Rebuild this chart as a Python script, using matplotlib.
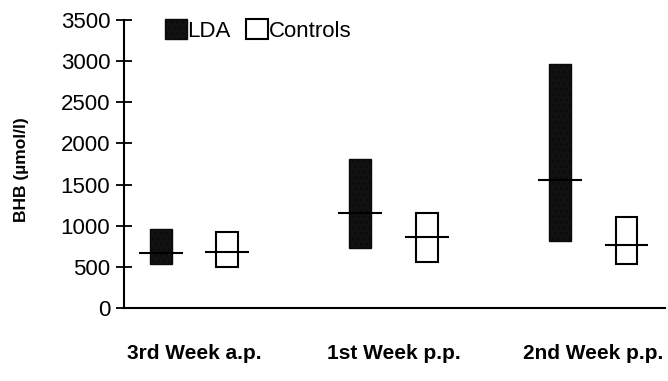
import numpy as np
import matplotlib
matplotlib.use('Agg')
from matplotlib import pyplot as plt
from matplotlib.patches import Patch


# =============================================================================
# Data: BHB range (min/max) and median per period
# =============================================================================
periods = ['3rd Week a.p.', '1st Week p.p.', '2nd Week p.p.']
lda_low = [530, 730, 810]
lda_high = [960, 1810, 2970]
lda_median = [670, 1160, 1550]
ctrl_low = [500, 560, 540]
ctrl_high = [920, 1160, 1110]
ctrl_median = [680, 860, 770]
yticks = [0, 500, 1000, 1500, 2000, 2500, 3000, 3500]


# =============================================================================
# Plot parameters
# =============================================================================
fontsize = 16
matplotlib.rcParams['font.family'] = 'Liberation Sans'
matplotlib.rcParams['font.size'] = fontsize
matplotlib.rcParams['axes.spines.right'] = False
matplotlib.rcParams['axes.spines.top'] = False
matplotlib.rcParams['axes.linewidth'] = 1.5
matplotlib.rcParams['hatch.color'] = '#555555'
matplotlib.rcParams['hatch.linewidth'] = 0.9

offset = 0.167
bar_width = 0.11
med_half = 0.11
lda_color = '#111111'


# =============================================================================
# Plot the ranges
# =============================================================================
fig = plt.figure(figsize=(6.68, 3.81), dpi=100)
ax = fig.add_axes([124/668, 1-308/381, (665-124)/668, (308-20)/381])

x = np.arange(len(periods))
lda_x = x - offset
ctrl_x = x + offset

ax.bar(lda_x, np.subtract(lda_high, lda_low), bottom=lda_low,
    width=bar_width, facecolor=lda_color, edgecolor='#0a0a0a',
    linewidth=1.0, hatch='...')
ax.bar(ctrl_x, np.subtract(ctrl_high, ctrl_low), bottom=ctrl_low,
    width=bar_width, facecolor='white', edgecolor='black', linewidth=1.5)

# Medians
ax.hlines(lda_median, lda_x - med_half, lda_x + med_half, color='black',
    linewidth=1.5)
ax.hlines(ctrl_median, ctrl_x - med_half, ctrl_x + med_half, color='black',
    linewidth=1.5)

# x-axis parameters
ax.set_xlim(-0.351, 2.36)
ax.set_xticks(x)
ax.set_xticklabels(periods, fontweight='bold', fontsize=15)
ax.tick_params(axis='x', length=0, pad=26)

# y-axis parameters
ax.set_ylim(0, 3500)
ax.set_yticks(yticks)
ax.tick_params(axis='y', direction='inout', length=12, width=1.3, pad=4,
    labelsize=16)
ax.set_ylabel('BHB (\u00b5mol/l)', fontweight='bold', fontsize=12.5)
ax.yaxis.set_label_coords(-0.175, 0.48)

# Legend
handles = [
    Patch(facecolor=lda_color, edgecolor='#0a0a0a', hatch='...',
        linewidth=1.0, label='LDA'),
    Patch(facecolor='white', edgecolor='black', linewidth=1.5,
        label='Controls'),
]
ax.legend(handles=handles, loc='upper left', ncol=2, frameon=False,
    bbox_to_anchor=(165/668, 1-19/381), bbox_transform=fig.transFigure,
    borderpad=0, borderaxespad=0, handlelength=1.0, handleheight=1.0,
    handletextpad=0.0, columnspacing=0.7, fontsize=fontsize)

fig.savefig('out.png', dpi=100)
plt.close()
